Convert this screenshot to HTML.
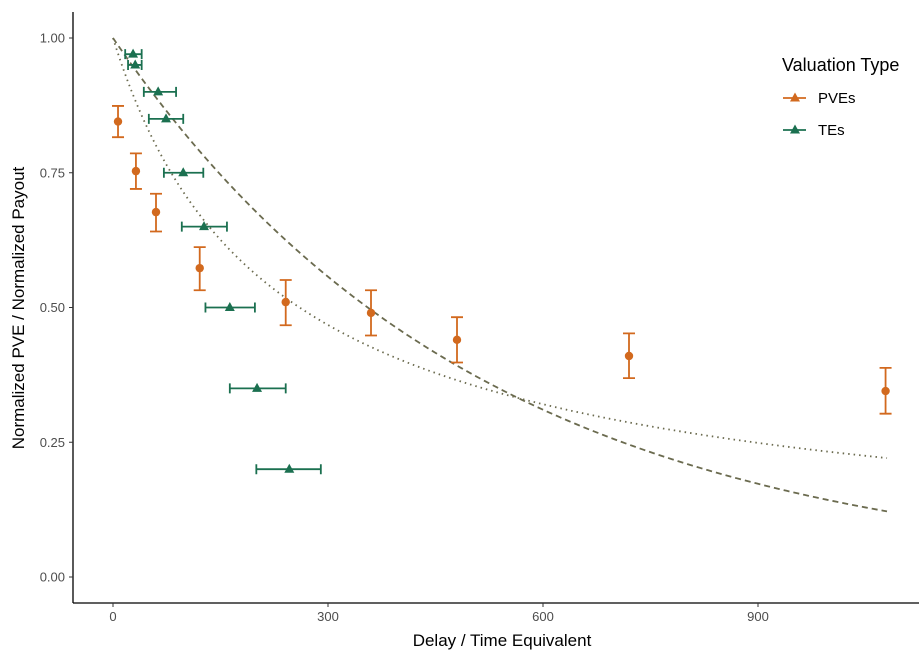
<!DOCTYPE html>
<html><head><meta charset="utf-8"><style>
body{margin:0;background:#fff;}
svg text{font-family:"Liberation Sans",Arial,sans-serif;}
</style></head><body>
<svg id="chart" width="921" height="654" viewBox="0 0 921 654">
<rect width="921" height="654" fill="#fff"/>
<g id="plot"></g>
</svg>
<script>
const pveX=[7,32,60,121,241,360,480,720,1078];
const pveY=[0.845,0.753,0.677,0.573,0.51,0.49,0.44,0.41,0.345];
const pveLo=[0.816,0.72,0.641,0.532,0.467,0.448,0.398,0.369,0.303];
const pveHi=[0.874,0.786,0.711,0.612,0.551,0.532,0.482,0.452,0.388];
const teY=[0.97,0.95,0.90,0.85,0.75,0.65,0.50,0.35,0.20];
const teX=[28,31,63,74,98,127,163,201,246];
const teLo=[17,21,43,50,71,96,129,163,200];
const teHi=[40,40,88,98,126,159,198,241,290];
const xTicks=[0,300,600,900];
const yTicks=[0,0.25,0.5,0.75,1.0];
const expK=0.00195, hypK=0.0055, hypS=0.78;
const sx=v=>113+v*215/300;
const sy=v=>577-v*539;
const NS="http://www.w3.org/2000/svg";
const g=document.getElementById('plot');
function mk(t,a){const e=document.createElementNS(NS,t);for(const k in a)e.setAttribute(k,a[k]);g.appendChild(e);return e;}
let e;
e=mk('line',{x1:73,y1:12,x2:73,y2:603,stroke:'#000','stroke-width':1.3});


e=mk('line',{x1:73,y1:603,x2:919,y2:603,stroke:'#000','stroke-width':1.3});


xTicks.forEach(v=>{
 e=mk('line',{x1:sx(v),y1:603,x2:sx(v),y2:607,stroke:'#333'});
 
 
 e=mk('text',{x:sx(v),y:621,'text-anchor':'middle','font-size':13,fill:'#4d4d4d'});e.textContent=v;
 
 
});
yTicks.forEach(v=>{
 e=mk('line',{x1:69,y1:sy(v),x2:73,y2:sy(v),stroke:'#333'});
 
 
 e=mk('text',{x:65,y:sy(v)+4.5,'text-anchor':'end','font-size':13,fill:'#4d4d4d'});e.textContent=v.toFixed(2);
 
 
});
e=mk('text',{x:502,y:646,'text-anchor':'middle','font-size':17,fill:'#000'});e.textContent='Delay / Time Equivalent';


e=mk('text',{x:0,y:0,'text-anchor':'middle','font-size':17,fill:'#000',transform:'translate(24,308) rotate(-90)'});e.textContent='Normalized PVE / Normalized Payout';


let d1='',d2='';
for(let x=0;x<=1080;x+=5){d1+=(x?'L':'M')+sx(x)+','+sy(Math.exp(-expK*x));d2+=(x?'L':'M')+sx(x)+','+sy(Math.pow(1+hypK*x,-hypS));}
e=mk('path',{d:d1,fill:'none',stroke:'#6b6b4f','stroke-width':1.8,'stroke-dasharray':'6,4'});


e=mk('path',{d:d2,fill:'none',stroke:'#6b6b4f','stroke-width':1.8,'stroke-dasharray':'1.5,4'});


const OR='#d2691e',GR='#1b7050';
pveX.forEach((x,i)=>{
 const X=sx(x);
 e=mk('path',{d:`M${X-6},${sy(pveHi[i])}H${X+6}M${X},${sy(pveHi[i])}V${sy(pveLo[i])}M${X-6},${sy(pveLo[i])}H${X+6}`,stroke:OR,'stroke-width':1.8,fill:'none'});
 
 
 e=mk('circle',{cx:X,cy:sy(pveY[i]),r:4.2,fill:OR});
 
 
});
function tri(cx,cy,c){return mk('polygon',{points:`${cx},${cy-5.5} ${cx-5},${cy+3.5} ${cx+5},${cy+3.5}`,fill:c});}
teX.forEach((x,i)=>{
 const Y=sy(teY[i]);
 e=mk('path',{d:`M${sx(teLo[i])},${Y-5}V${Y+5}M${sx(teLo[i])},${Y}H${sx(teHi[i])}M${sx(teHi[i])},${Y-5}V${Y+5}`,stroke:GR,'stroke-width':1.8,fill:'none'});
 
 
 e=tri(sx(x),Y,GR);
 
 
});
e=mk('text',{x:782,y:71,'font-size':18,fill:'#000'});e.textContent='Valuation Type';


[['PVEs',OR,98],['TEs',GR,130]].forEach(([t,c,y])=>{
 e=mk('line',{x1:783,y1:y,x2:806,y2:y,stroke:c,'stroke-width':1.8});
 
 
 e=tri(795,y,c);
 
 
 e=mk('text',{x:818,y:y+5,'font-size':15,fill:'#000'});e.textContent=t;
 
 
});
</script>
</body></html>
